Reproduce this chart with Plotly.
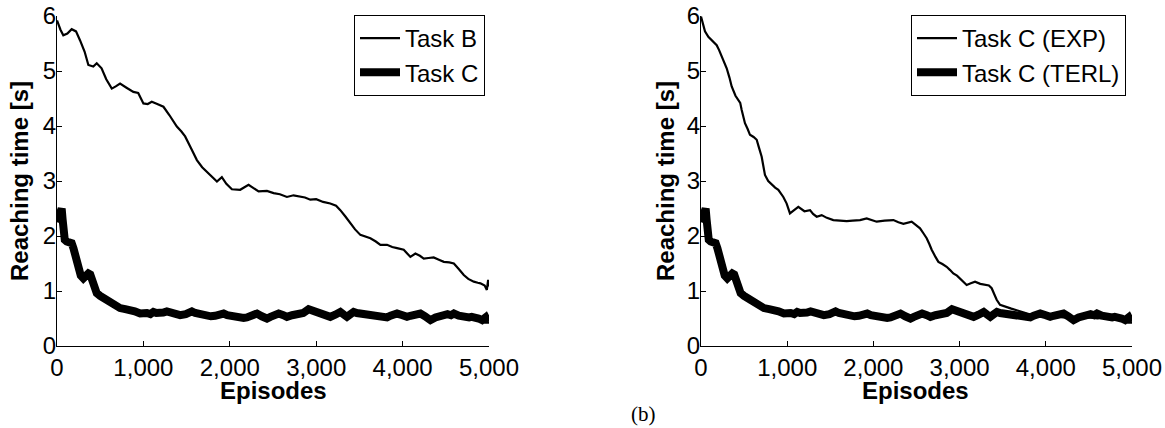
import plotly.graph_objects as go

# ---------------- data ----------------
task_b_ep = [0, 40, 73, 120, 170, 220, 266, 320, 363, 420, 460, 490, 516, 570, 634, 680, 730, 800, 884, 940,
             1000, 1050, 1097, 1160, 1232, 1300, 1387, 1440, 1483, 1550, 1619, 1680, 1735, 1800, 1851, 1908,
             1960, 2024, 2120, 2217, 2280, 2333, 2430, 2507, 2580, 2661, 2738, 2816, 2870, 2932, 3000, 3080,
             3163, 3230, 3279, 3340, 3395, 3450, 3511, 3570, 3627, 3690, 3743, 3820, 3880, 3936, 4013, 4090,
             4148, 4200, 4245, 4300, 4360, 4420, 4477, 4540, 4593, 4650, 4708, 4760, 4824, 4870, 4901, 4950,
             4975, 4990, 5000]
task_b_val = [5.92, 5.75, 5.65, 5.68, 5.76, 5.72, 5.56, 5.35, 5.11, 5.08, 5.14, 5.08, 5.05, 4.85, 4.68, 4.72,
              4.77, 4.70, 4.62, 4.60, 4.41, 4.40, 4.44, 4.40, 4.35, 4.20, 3.99, 3.90, 3.81, 3.60, 3.38, 3.25,
              3.17, 3.08, 2.99, 3.07, 2.95, 2.85, 2.84, 2.93, 2.86, 2.81, 2.82, 2.78, 2.76, 2.71, 2.74, 2.71,
              2.70, 2.66, 2.67, 2.62, 2.59, 2.55, 2.47, 2.35, 2.23, 2.12, 2.02, 1.99, 1.96, 1.90, 1.84, 1.84,
              1.80, 1.78, 1.75, 1.62, 1.68, 1.64, 1.59, 1.60, 1.61, 1.57, 1.53, 1.52, 1.50, 1.40, 1.29, 1.22,
              1.17, 1.15, 1.14, 1.10, 1.02, 1.20, 1.08]

task_c_ep = [0, 20, 40, 54, 65, 73, 90, 112, 140, 170, 190, 208, 228, 247, 275, 305, 335, 363, 385, 402, 430,
             460, 500, 537, 575, 614, 670, 730, 790, 846, 900, 962, 1000, 1040, 1080, 1116, 1150, 1193, 1230,
             1271, 1300, 1340, 1380, 1425, 1490, 1530, 1561, 1600, 1640, 1690, 1735, 1780, 1830, 1880, 1928,
             1970, 2020, 2070, 2120, 2160, 2198, 2260, 2314, 2370, 2430, 2470, 2500, 2565, 2620, 2661, 2720,
             2777, 2850, 2912, 2960, 3008, 3050, 3090, 3130, 3163, 3220, 3279, 3320, 3356, 3400, 3434, 3470,
             3510, 3550, 3588, 3630, 3680, 3730, 3781, 3820, 3860, 3900, 3936, 4000, 4051, 4090, 4130, 4170,
             4206, 4260, 4322, 4380, 4438, 4480, 4520, 4560, 4593, 4650, 4708, 4740, 4770, 4800, 4824, 4860,
             4880, 4920, 4960, 4985, 5000]
task_c_val = [2.25, 2.38, 2.45, 2.50, 2.30, 1.99, 1.93, 1.90, 1.88, 1.87, 1.78, 1.65, 1.50, 1.38, 1.28, 1.23,
              1.27, 1.32, 1.30, 1.22, 1.10, 0.96, 0.91, 0.87, 0.85, 0.81, 0.75, 0.69, 0.67, 0.66, 0.63, 0.59,
              0.61, 0.60, 0.58, 0.62, 0.60, 0.59, 0.61, 0.63, 0.61, 0.60, 0.57, 0.56, 0.58, 0.61, 0.63, 0.60,
              0.58, 0.55, 0.53, 0.54, 0.55, 0.57, 0.59, 0.56, 0.54, 0.52, 0.50, 0.51, 0.52, 0.55, 0.59, 0.54,
              0.50, 0.53, 0.54, 0.59, 0.56, 0.53, 0.56, 0.58, 0.60, 0.67, 0.64, 0.62, 0.60, 0.58, 0.55, 0.53,
              0.57, 0.62, 0.57, 0.53, 0.58, 0.62, 0.60, 0.59, 0.57, 0.56, 0.54, 0.53, 0.51, 0.50, 0.52, 0.55,
              0.57, 0.59, 0.56, 0.53, 0.55, 0.57, 0.56, 0.59, 0.54, 0.47, 0.52, 0.56, 0.58, 0.58, 0.56, 0.59,
              0.55, 0.52, 0.54, 0.52, 0.53, 0.53, 0.51, 0.50, 0.47, 0.52, 0.44, 0.48]

exp_ep = [0, 20, 46, 85, 124, 150, 182, 210, 240, 270, 298, 330, 356, 400, 433, 455, 472, 490, 510, 540, 568,
          610, 646, 670, 704, 720, 742, 780, 820, 860, 897, 930, 955, 994, 1032, 1080, 1129, 1200, 1265, 1300,
          1342, 1400, 1460, 1535, 1610, 1690, 1760, 1845, 1922, 2000, 2038, 2130, 2232, 2290, 2348, 2444,
          2500, 2541, 2580, 2618, 2650, 2676, 2720, 2754, 2800, 2850, 2890, 2927, 2970, 3005, 3040, 3082,
          3130, 3179, 3240, 3295, 3340, 3372, 3400, 3430, 3469, 3500, 3546, 3600, 3662, 3720, 3778, 3850,
          3920, 4000, 4100, 4200, 4300, 4400, 4500, 4600, 4700, 4800, 4900, 4960, 5000]
exp_val = [5.99, 5.85, 5.72, 5.62, 5.56, 5.52, 5.47, 5.38, 5.26, 5.15, 5.05, 4.88, 4.72, 4.55, 4.47, 4.42,
           4.29, 4.18, 4.05, 3.95, 3.84, 3.80, 3.75, 3.62, 3.44, 3.30, 3.11, 3.00, 2.93, 2.88, 2.84, 2.77,
           2.71, 2.59, 2.41, 2.47, 2.53, 2.45, 2.47, 2.40, 2.35, 2.38, 2.33, 2.29, 2.28, 2.27, 2.28, 2.29,
           2.32, 2.27, 2.26, 2.28, 2.29, 2.25, 2.22, 2.26, 2.20, 2.14, 2.05, 1.96, 1.85, 1.75, 1.62, 1.53,
           1.49, 1.44, 1.38, 1.32, 1.28, 1.23, 1.17, 1.11, 1.14, 1.17, 1.13, 1.11, 1.10, 1.05, 0.95, 0.84,
           0.75, 0.73, 0.71, 0.68, 0.65, 0.62, 0.59, 0.56, 0.55, 0.54, 0.55, 0.52, 0.53, 0.51, 0.52, 0.50,
           0.52, 0.50, 0.49, 0.47, 0.50]

terl_ep = task_c_ep
terl_val = task_c_val

x_ticks = [0, 1000, 2000, 3000, 4000, 5000]
x_tick_labels = ["0", "1,000", "2,000", "3,000", "4,000", "5,000"]
y_ticks = [0, 1, 2, 3, 4, 5, 6]
y_tick_labels = ["0", "1", "2", "3", "4", "5", "6"]

# ---------------- figure ----------------
W, H = 1165, 428
FONT = "Liberation Sans, Arial, Helvetica, sans-serif"

fig = go.Figure()
fig.add_trace(go.Scatter(x=task_b_ep, y=task_b_val, mode="lines", name="Task B",
                         line=dict(color="black", width=2.2), xaxis="x", yaxis="y", legend="legend"))
fig.add_trace(go.Scatter(x=task_c_ep, y=task_c_val, mode="lines", name="Task C",
                         line=dict(color="black", width=8), xaxis="x", yaxis="y", legend="legend"))
fig.add_trace(go.Scatter(x=exp_ep, y=exp_val, mode="lines", name="Task C (EXP)",
                         line=dict(color="black", width=2.2), xaxis="x2", yaxis="y2", legend="legend2"))
fig.add_trace(go.Scatter(x=terl_ep, y=terl_val, mode="lines", name="Task C (TERL)",
                         line=dict(color="black", width=8), xaxis="x2", yaxis="y2", legend="legend2"))

def xpx(p):
    return p / W

def ypx(p):
    return (H - p) / H

ydom = [ypx(346), ypx(16)]
axis_common = dict(showline=True, linecolor="black", linewidth=1, ticks="inside", ticklen=5,
                   tickcolor="black", showgrid=False, zeroline=False, mirror=False,
                   tickfont=dict(family=FONT, size=24, color="black"), automargin=False)

fig.update_layout(
    width=W, height=H,
    margin=dict(l=0, r=0, t=0, b=0),
    paper_bgcolor="white", plot_bgcolor="white",
    font=dict(family=FONT, size=24, color="black"),
    xaxis=dict(domain=[xpx(57), xpx(489)], range=[0, 5000], anchor="y",
               tickvals=x_ticks, ticktext=x_tick_labels, **axis_common),
    yaxis=dict(domain=ydom, range=[0, 6], anchor="x", ticklabelstandoff=-5,
               tickvals=y_ticks, ticktext=y_tick_labels, **axis_common),
    xaxis2=dict(domain=[xpx(701), xpx(1132)], range=[0, 5000], anchor="y2",
                tickvals=x_ticks, ticktext=x_tick_labels, **axis_common),
    yaxis2=dict(domain=ydom, range=[0, 6], anchor="x2", ticklabelstandoff=-5,
                tickvals=y_ticks, ticktext=y_tick_labels, **axis_common),
    legend=dict(x=xpx(354), y=ypx(15), xanchor="left", yanchor="top", itemwidth=40,
                bordercolor="black", borderwidth=1, bgcolor="white",
                font=dict(family=FONT, size=24, color="black"), tracegroupgap=0),
    legend2=dict(x=xpx(911), y=ypx(15), xanchor="left", yanchor="top", itemwidth=40,
                 bordercolor="black", borderwidth=1, bgcolor="white",
                 font=dict(family=FONT, size=24, color="black"), tracegroupgap=0),
    showlegend=True,
)

title_font = dict(family=FONT, size=24, color="black")
annotations = [
    dict(text="<b>Reaching time [s]</b>", x=xpx(20), y=ypx(181), textangle=-90),
    dict(text="<b>Reaching time [s]</b>", x=xpx(666), y=ypx(181), textangle=-90),
    dict(text="<b>Episodes</b>", x=xpx(273), y=ypx(390)),
    dict(text="<b>Episodes</b>", x=xpx(916), y=ypx(390)),
]
for a in annotations:
    fig.add_annotation(xref="paper", yref="paper", xanchor="center", yanchor="middle",
                       showarrow=False, font=title_font, **a)
fig.add_annotation(text="(b)", xref="paper", yref="paper", x=xpx(643), y=ypx(414),
                   xanchor="center", yanchor="middle", showarrow=False,
                   font=dict(family="Liberation Serif, Times New Roman, serif", size=21, color="black"))

fig.write_html("out.html", config={"displayModeBar": False},
               post_script="document.body.style.margin='0px';document.body.style.overflow='hidden';")
